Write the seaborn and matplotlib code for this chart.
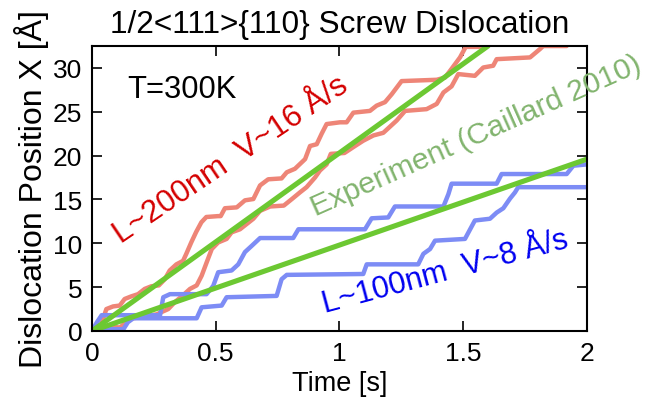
import matplotlib
matplotlib.use("Agg")
import matplotlib.pyplot as plt
import seaborn as sns

# ---- text ----
title = "1/2<111>{110} Screw Dislocation"
x_label = "Time [s]"
y_label = "Dislocation Position X [Å]"
x_ticks = [0, 0.5, 1, 1.5, 2]
x_tick_labels = ["0", "0.5", "1", "1.5", "2"]
y_ticks = [0, 5, 10, 15, 20, 25, 30]
y_tick_labels = ["0", "5", "10", "15", "20", "25", "30"]
temp_label = "T=300K"
red_label = "L~200nm  V~16 Å/s"
blue_label = "L~100nm  V~8 Å/s"
green_label = "Experiment (Caillard 2010)"

# ---- data ----
red1_t = [0, 0.02, 0.038, 0.058, 0.085, 0.112, 0.132, 0.159, 0.186, 0.213, 0.24, 0.27, 0.294,
          0.314, 0.341, 0.368, 0.381, 0.401, 0.421, 0.442, 0.462, 0.509, 0.52, 0.537, 0.585,
          0.618, 0.652, 0.679, 0.712, 0.766, 0.787, 0.82, 0.861, 0.881, 0.908, 0.928, 0.948,
          1.002, 1.029, 1.056, 1.123, 1.15, 1.184, 1.211, 1.251, 1.393, 1.426, 1.453, 1.487,
          1.51, 1.59]
red1_x = [0, 0.1, 0.8, 2.5, 2.8, 2.9, 3.65, 3.95, 4.2, 4.8, 5.1, 5.2, 5.9,
          6.9, 7.6, 8.0, 8.8, 10.1, 11.3, 12.4, 13.0, 13.1, 13.1, 14.0, 14.1,
          14.9, 15.05, 16.6, 17.3, 17.4, 18.1, 18.5, 19.6, 21.1, 21.3, 22.5, 23.6,
          23.8, 23.8, 24.9, 25.1, 25.7, 26.1, 27.0, 28.5, 28.65, 28.9, 29.9, 31.2,
          32.4, 32.4]

red2_t = [0, 0.032, 0.07, 0.113, 0.154, 0.2, 0.261, 0.308, 0.335, 0.365, 0.396, 0.423, 0.443,
          0.463, 0.484, 0.51, 0.544, 0.564, 0.598, 0.625, 0.652, 0.679, 0.72, 0.775, 0.81,
          0.84, 0.867, 0.901, 0.921, 0.948, 0.965, 1.02, 1.063, 1.096, 1.137, 1.177, 1.231,
          1.265, 1.352, 1.393, 1.42, 1.453, 1.48, 1.547, 1.581, 1.621, 1.635, 1.77, 1.81,
          1.823, 1.918]
red2_x = [0, 0.6, 0.5, 0.4, 1.4, 1.6, 1.9, 2.5, 3.3, 4.0, 4.8, 5.2, 6.3,
          7.8, 9.35, 10.1, 10.5, 11.25, 11.6, 12.2, 12.8, 13.7, 14.2, 14.3, 15.1,
          15.8, 16.4, 17.5, 18.3, 19.0, 20.2, 20.3, 21.1, 21.7, 22.3, 22.6, 24.0,
          25.1, 25.3, 25.9, 27.2, 27.9, 29.3, 29.1, 30.05, 30.25, 31.0, 31.2, 32.15,
          32.5, 32.5]

blue1_t = [0, 0.02, 0.039, 0.275, 0.288, 0.315, 0.463, 0.49, 0.51, 0.564, 0.591, 0.618, 0.645,
           0.679, 0.813, 0.834, 1.103, 1.13, 1.197, 1.224, 1.42, 1.44, 1.453, 1.635, 1.655,
           1.918, 1.945, 2.0]
blue1_x = [0, 1.0, 1.8, 1.8, 3.85, 4.2, 4.2, 5.15, 6.7, 6.9, 7.6, 9.0, 9.7,
           10.6, 10.6, 11.6, 11.6, 12.85, 12.95, 14.2, 14.2, 15.6, 16.8, 16.8, 17.9,
           17.9, 18.85, 19.0]

blue2_t = [0, 0.06, 0.127, 0.145, 0.167, 0.423, 0.443, 0.524, 0.544, 0.746, 0.766, 0.787, 1.096,
           1.11, 1.318, 1.339, 1.366, 1.386, 1.507, 1.547, 1.608, 1.635, 1.662, 1.689, 1.709,
           1.722, 2.0]
blue2_x = [0, 0.2, 0.2, 1.0, 1.45, 1.45, 2.7, 2.9, 3.85, 4.0, 5.9, 6.4, 6.5,
           7.6, 7.6, 8.8, 9.35, 10.3, 10.5, 12.6, 12.8, 13.5, 14.0, 15.1, 15.8,
           16.4, 16.4]

exp1_t = [0, 1.6]
exp1_x = [0, 32.5]
exp2_t = [0, 2.0]
exp2_x = [0, 19.6]

# ---- style ----
sns.set_style("ticks")
plt.rcParams['font.family'] = ['Liberation Sans', 'DejaVu Sans']
plt.rcParams['text.color'] = 'black'
plt.rcParams['axes.labelcolor'] = 'black'
plt.rcParams['xtick.color'] = 'black'
plt.rcParams['ytick.color'] = 'black'

red_line = "#ee8577"
blue_line = "#7d8cf5"
green_line = "#6cc832"
red_text = "#d40000"
blue_text = "#0000f0"
green_text = "#82b46e"

fig = plt.figure(figsize=(6.59, 4.06), dpi=100)
ax = fig.add_axes([0.1396, 0.1823, 0.7511, 0.7019])

for t, xv, col, lw in [(red1_t, red1_x, red_line, 3.2),
                       (red2_t, red2_x, red_line, 3.2),
                       (blue1_t, blue1_x, blue_line, 3.2),
                       (blue2_t, blue2_x, blue_line, 3.2),
                       (exp1_t, exp1_x, green_line, 3.7),
                       (exp2_t, exp2_x, green_line, 3.7)]:
    sns.lineplot(x=t, y=xv, ax=ax, color=col, linewidth=lw, sort=False,
                 estimator=None, legend=False)

ax.set_xlim(0, 2)
ax.set_ylim(0, 32.5)
ax.set_xticks(x_ticks)
ax.set_xticklabels(x_tick_labels)
ax.set_yticks(y_ticks)
ax.set_yticklabels(y_tick_labels)
ax.tick_params(direction='in', top=True, right=True, length=7, width=1.2,
               labelsize=19, colors='black', pad=7)
for s in ax.spines.values():
    s.set_visible(True)
    s.set_color('black')
    s.set_linewidth(1.5)

ax.set_title(title, fontsize=22.7, pad=10, color='black')
ax.set_xlabel(x_label, fontsize=19.5, labelpad=4, color='black')
ax.set_ylabel(y_label, fontsize=23, labelpad=3, color='black')

ax.text(0.141, 26.7, temp_label, fontsize=22.3, ha='left', va='baseline', color='black')
ax.text(0.117, 10.0, red_label, fontsize=22.5, color=red_text, rotation=34,
        rotation_mode='anchor', ha='left', va='baseline')
ax.text(0.905, 13.2, green_label, fontsize=21.8, color=green_text, rotation=24,
        rotation_mode='anchor', ha='left', va='baseline')
ax.text(0.94, 2.17, blue_label, fontsize=22, color=blue_text, rotation=15,
        rotation_mode='anchor', ha='left', va='baseline')

fig.savefig("out.png", dpi=100)
